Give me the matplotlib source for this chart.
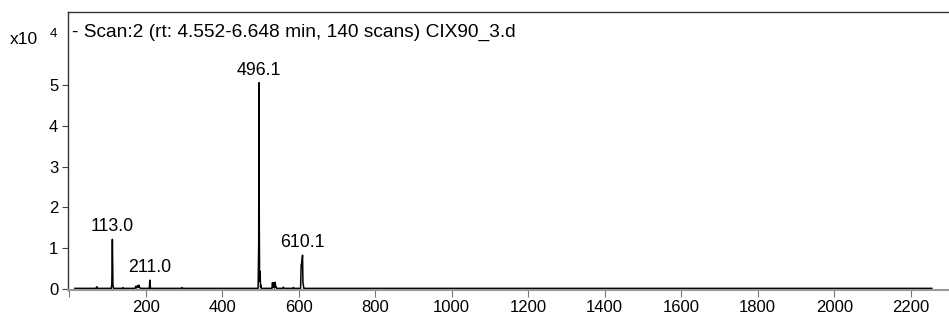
import matplotlib.pyplot as plt

plt.rcParams['font.family'] = ['Liberation Sans', 'DejaVu Sans']

# spectrum profile (m/z, counts x10^4)
mz = [15, 70, 72.5, 74, 110, 111.5, 113.0, 114.5, 116, 139, 140.5, 142,
      172, 174, 176, 178, 180, 182, 184, 186, 209.5, 211.0, 212.5, 293, 295, 297,
      494, 495.5, 496.1, 496.9, 497.8, 498.6, 499.5, 500.3, 501.2, 502,
      530, 531.5, 533, 534, 537, 538.5, 540, 541.5, 543, 558, 560, 562, 584, 586, 588,
      605, 606.5, 608.2, 610.1, 611.2, 612.3, 613.5, 2255]
counts = [0.02, 0.02, 0.06, 0.02, 0.02, 0.1, 1.22, 0.1, 0.02, 0.02, 0.04, 0.02,
          0.02, 0.07, 0.03, 0.08, 0.04, 0.1, 0.05, 0.02, 0.02, 0.22, 0.02, 0.02, 0.04, 0.02,
          0.02, 1.1, 5.05, 1.93, 0.2, 0.44, 0.3, 0.05, 0.1, 0.02,
          0.02, 0.16, 0.04, 0.16, 0.03, 0.17, 0.04, 0.05, 0.02, 0.02, 0.05, 0.02, 0.02, 0.04, 0.02,
          0.02, 0.6, 0.65, 0.83, 0.15, 0.1, 0.02, 0.02]

peak_mz = [113.0, 211.0, 496.1, 610.1]
peak_h = [1.22, 0.22, 5.05, 0.83]
peak_labels = ["113.0", "211.0", "496.1", "610.1"]

fig = plt.figure(figsize=(9.49, 3.21), dpi=100)
ax = fig.add_axes([68 / 949, 1 - 290 / 321, 1 - 68 / 949, 278 / 321])

ax.plot(mz, counts, color='black', lw=1.1)
for x, h, lab in zip(peak_mz, peak_h, peak_labels):
    ax.text(x, h + 0.1, lab, ha='center', va='bottom', fontsize=12.8)

ax.set_xlim(-3, 2300)
ax.set_ylim(-0.02, 6.78)
ax.set_xticks(range(0, 2201, 200))
ax.set_xticklabels([""] + [str(v) for v in range(200, 2201, 200)])
ax.set_yticks(range(0, 6))
ax.tick_params(axis='x', direction='out', length=5, color='#777777', labelsize=12, pad=2)
ax.tick_params(axis='y', direction='out', length=4, color='#444444', labelsize=12, pad=3)

ax.spines['right'].set_visible(False)
ax.spines['bottom'].set_color('#999999')
ax.spines['bottom'].set_linewidth(1.5)
for s in ['left', 'top']:
    ax.spines[s].set_color('#333333')
    ax.spines[s].set_linewidth(1.0)

ax.text(0.005, 0.925, "- Scan:2 (rt: 4.552-6.648 min, 140 scans) CIX90_3.d",
        transform=ax.transAxes, ha='left', va='center', fontsize=13.8)
fig.text(10 / 949, 1 - 40 / 321, "x10", ha='left', va='center', fontsize=12.5)
fig.text(50 / 949, 1 - 34 / 321, "4", ha='left', va='center', fontsize=9.5)

fig.savefig("out.png", dpi=100)
